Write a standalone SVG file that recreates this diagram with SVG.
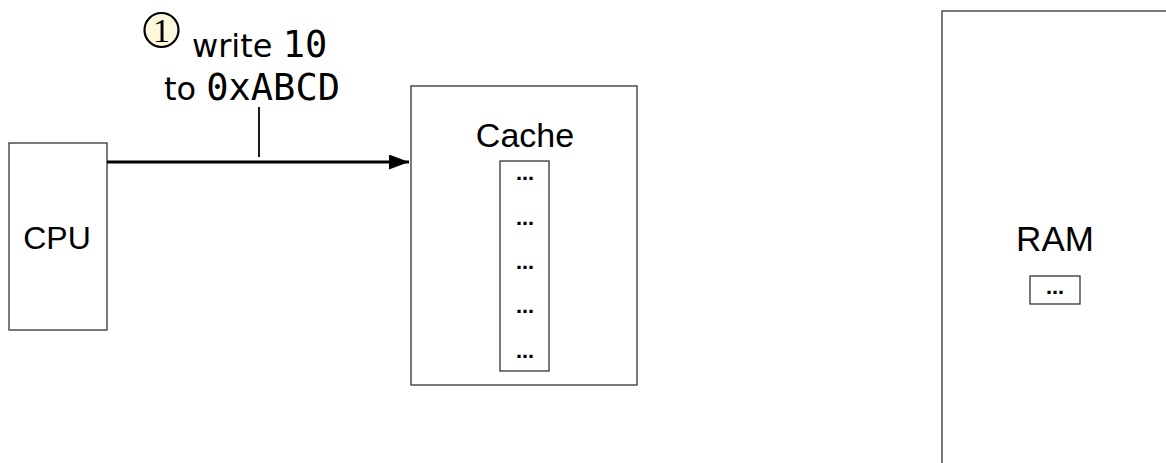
<svg xmlns="http://www.w3.org/2000/svg" width="1166" height="463" viewBox="0 0 1166 463">
<defs>
<style>
.box{fill:#fff;stroke:#333;stroke-width:1.3}
.lbl{font-family:"Liberation Sans",Arial,sans-serif;font-size:34px;fill:#000;text-anchor:middle}
.dots{font-family:"DejaVu Sans",sans-serif;font-size:18px;font-weight:bold;fill:#000;text-anchor:middle}
.ann{font-family:"DejaVu Sans",sans-serif;font-size:32px;fill:#000}
.mono{font-family:"DejaVu Sans Mono",monospace;font-size:37px}
.wire{stroke:#000;stroke-width:2.8;fill:none}
</style>
<marker id="arr" markerWidth="20" markerHeight="15" refX="20" refY="7.5" orient="auto" markerUnits="userSpaceOnUse" viewBox="0 0 20 15">
<path d="M0,0 L20,7.5 L0,15 Z" fill="#000"/>
</marker>
</defs>
<rect width="1166" height="463" fill="#fff"/>
<g id="cpu">
<rect class="box" x="9" y="143" width="98" height="187"/>
<text class="lbl" x="57" y="249" style="font-size:32px">CPU</text>
</g>
<g id="cache">
<rect class="box" x="411" y="86" width="226" height="299"/>
<text class="lbl" x="525" y="147">Cache</text>
<rect class="box" x="500" y="161" width="49" height="210"/>
<text class="dots" x="525" y="180">…</text>
<text class="dots" x="525" y="225">…</text>
<text class="dots" x="525" y="269">…</text>
<text class="dots" x="525" y="313">…</text>
<text class="dots" x="525" y="358">…</text>
</g>
<g id="ram">
<rect class="box" x="942" y="11" width="240" height="470"/>
<text class="lbl" x="1055" y="251" style="font-size:35px">RAM</text>
<rect class="box" x="1030" y="276" width="50" height="28"/>
<text class="dots" x="1055" y="294">…</text>
</g>
<g id="connectors">
<line class="wire" x1="107" y1="162" x2="409" y2="162" marker-end="url(#arr)"/>
<line x1="259" y1="107" x2="259" y2="157" stroke="#000" stroke-width="1.8"/>
</g>
<g id="annotation">
<circle cx="161.5" cy="30" r="17" fill="#fdf8dc" stroke="#000" stroke-width="2.2"/>
<text x="161.5" y="42" font-family="Liberation Serif,serif" font-size="34" text-anchor="middle">1</text>
<text class="ann" x="192" y="57">write <tspan class="mono">10</tspan></text>
<text class="ann" x="164" y="100">to <tspan class="mono">0xABCD</tspan></text>
</g>
</svg>
